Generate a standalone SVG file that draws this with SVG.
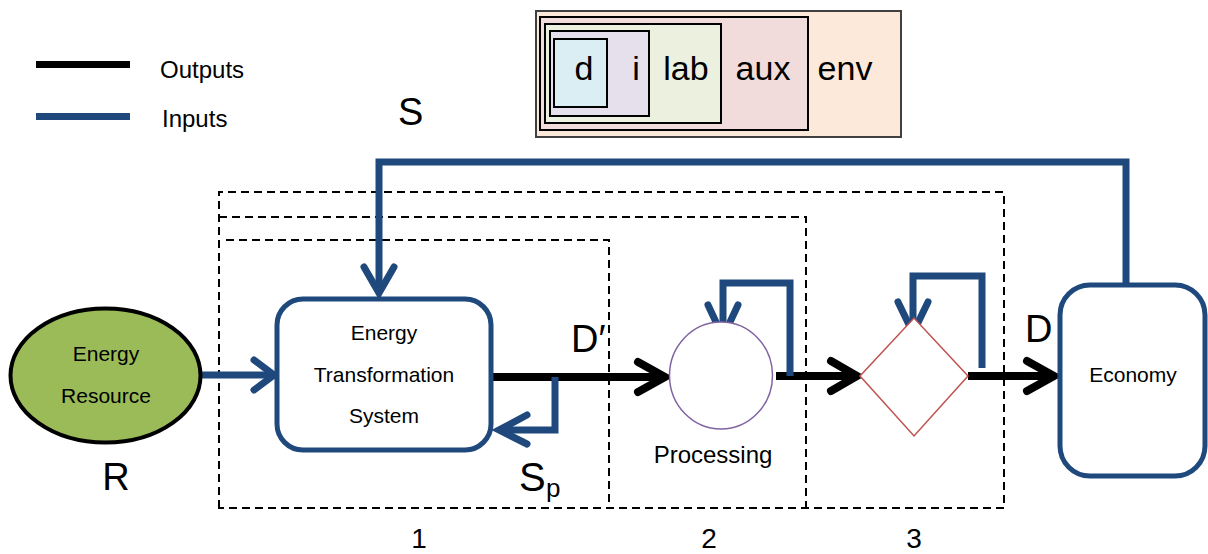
<svg xmlns="http://www.w3.org/2000/svg" width="1208" height="554" viewBox="0 0 1208 554">
<style>
text{font-family:"Liberation Sans",Arial,sans-serif;fill:#000}
.in{fill:none;stroke:#1F497D;stroke-width:7;stroke-linejoin:miter}
.inh{fill:none;stroke:#1F497D;stroke-width:7;stroke-linecap:round;stroke-linejoin:miter}
.out{fill:none;stroke:#000;stroke-width:8}
.outh{fill:none;stroke:#000;stroke-width:8;stroke-linecap:round;stroke-linejoin:miter}
.dash{fill:none;stroke:#000;stroke-width:2;stroke-dasharray:8 5}
.lbl{font-size:38px}
.nd{font-size:21px;text-anchor:middle}
.box{stroke:#000;stroke-width:2}
.bt{font-size:34px;text-anchor:middle}
.num{font-size:28px;text-anchor:middle}
</style>
<rect width="1208" height="554" fill="#fff"/>

<g id="legend">
<line x1="36" y1="64.5" x2="130" y2="64.5" stroke="#000" stroke-width="7"/>
<line x1="36" y1="116.5" x2="130" y2="116.5" stroke="#1F497D" stroke-width="7"/>
<text x="160" y="78" font-size="24">Outputs</text>
<text x="162" y="127" font-size="24">Inputs</text>
</g>

<g id="scope-box">
<rect x="536" y="11" width="365" height="126" fill="#FDE9D9" stroke="#404040" stroke-width="2"/>
<rect x="540" y="17" width="268" height="113" fill="#F2DCDB" class="box"/>
<rect x="545" y="24" width="176" height="99" fill="#EBF1DE" class="box"/>
<rect x="550" y="31" width="99" height="85" fill="#E5E0EC" class="box"/>
<rect x="554" y="39" width="53" height="68" fill="#DBEEF4" class="box"/>
<text x="584" y="80" class="bt">d</text>
<text x="636" y="80" class="bt">i</text>
<text x="686" y="80" class="bt">lab</text>
<text x="763" y="80" class="bt">aux</text>
<text x="845" y="80" class="bt">env</text>
</g>

<g id="stages">
<path class="dash" d="M219 508 V192 H1004 V508 Z"/>
<path class="dash" d="M219 217 H806 V508"/>
<path class="dash" d="M226 240 H609 V508"/>
<text x="419" y="548" class="num">1</text>
<text x="709" y="548" class="num">2</text>
<text x="914" y="548" class="num">3</text>
</g>

<g id="connectors">
<!-- S feedback -->
<polyline class="in" points="1126,283 1126,162 379,162 379,293"/>
<polyline class="inh" points="364,267 379,293 394,267"/>
<!-- R to ETS -->
<line class="in" x1="202" y1="375" x2="273" y2="375"/>
<polyline class="inh" points="254,360 274,375 254,390"/>
<!-- D' -->
<line class="out" x1="493" y1="377" x2="664" y2="377"/>
<polyline class="outh" points="638,362 665,377 638,392"/>
<!-- Sp feedback -->
<polyline class="in" points="555,377 555,430 499,430"/>
<polyline class="inh" points="527,415 499,430 527,444"/>
<!-- circle to diamond -->
<line class="out" x1="776" y1="376" x2="856" y2="376"/>
<polyline class="outh" points="831,361 857,376 831,391"/>
<!-- circle loop -->
<polyline class="in" points="790,376 790,283 723,283 723,336"/>
<polyline class="inh" points="708,305 723,337 738,305"/>
<!-- diamond loop -->
<polyline class="in" points="982,368 982,276 913,276 913,332"/>
<polyline class="inh" points="898,302 913,333 928,302"/>
<!-- D -->
<line class="out" x1="968" y1="376" x2="1053" y2="376"/>
<polyline class="outh" points="1027,361 1054,376 1027,391"/>
</g>

<g id="energy-resource">
<ellipse cx="105.5" cy="375.5" rx="95" ry="67" fill="#9BBB59" stroke="#000" stroke-width="4"/>
<text x="106" y="361" class="nd">Energy</text>
<text x="106" y="403" class="nd">Resource</text>
<text x="116" y="490" class="lbl" text-anchor="middle">R</text>
</g>

<g id="ets">
<rect x="277" y="299" width="214" height="151" rx="26" fill="#fff" stroke="#1F497D" stroke-width="5"/>
<text x="384" y="340" class="nd">Energy</text>
<text x="384" y="382" class="nd">Transformation</text>
<text x="384" y="423" class="nd">System</text>
</g>

<g id="labels">
<text x="398" y="125" class="lbl">S</text>
<text x="571" y="352" class="lbl">D′</text>
<text x="519" y="491" font-size="40">S</text>
<text x="546" y="497" font-size="26">p</text>
<text x="1025" y="342" class="lbl">D</text>
</g>

<g id="processing">
<ellipse cx="721" cy="375.5" rx="51.5" ry="53.5" fill="#fff" stroke="#8064A2" stroke-width="1.5"/>
<text x="713" y="463" font-size="24" text-anchor="middle">Processing</text>
</g>

<g id="stage3">
<polygon points="860,376 914,318 968,376 914,436" fill="#fff" stroke="#C0504D" stroke-width="1.5"/>
</g>

<g id="economy">
<rect x="1060" y="285" width="145" height="191" rx="30" fill="#fff" stroke="#1F497D" stroke-width="5"/>
<text x="1133" y="382" class="nd">Economy</text>
</g>
</svg>
